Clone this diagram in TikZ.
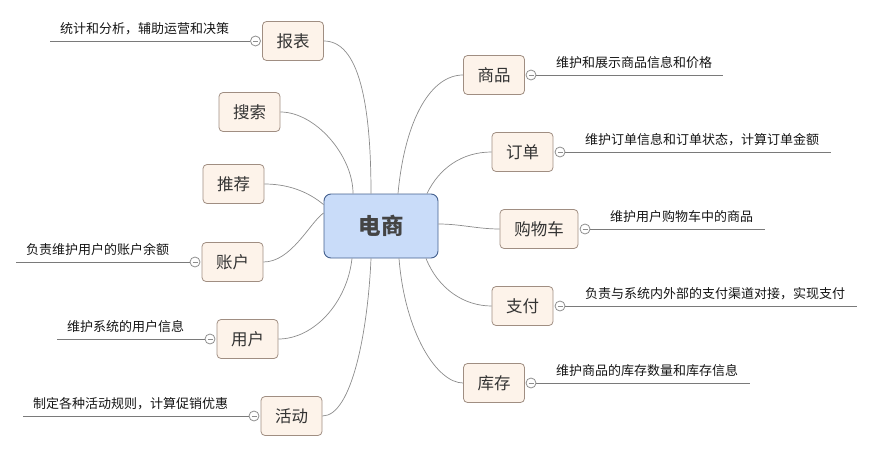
\documentclass[tikz,border=0pt]{standalone}
\usepackage{fontspec}
\setmainfont{Noto Sans CJK SC}
\begin{document}
\begin{tikzpicture}[x=1pt,y=-1pt,
  topic/.style={draw=nodeedge, fill=nodefill, rounded corners=4pt, line width=0.8pt,
    minimum height=39pt, minimum width=61pt, inner sep=0pt, text=nodetext,
    font=\fontsize{16.5}{16.5}\selectfont},
  root/.style={draw=rootedge, fill=rootfill, rounded corners=7pt, line width=0.9pt,
    minimum height=64pt, minimum width=114pt, inner sep=0pt, text=roottext,
    font=\fontsize{22.5}{22.5}\selectfont\bfseries},
  conn/.style={draw=connc, line width=0.7pt},
  dline/.style={draw=dlinec, line width=0.8pt},
  knob/.style={circle, draw=knobc, fill=white, line width=0.8pt, minimum size=10pt, inner sep=0pt,
    path picture={\draw[knobc, line width=0.8pt] ([xshift=-2.5pt]path picture bounding box.center) -- ([xshift=2.5pt]path picture bounding box.center);}},
  desc/.style={inner sep=0pt, text=desctext, font=\fontsize{13}{13}\selectfont}
]
\definecolor{nodeedge}{HTML}{A08E82}
\definecolor{nodefill}{HTML}{FDF3EA}
\definecolor{nodetext}{HTML}{333333}
\definecolor{rootedge}{HTML}{44608E}
\definecolor{rootfill}{HTML}{C9DCF9}
\definecolor{roottext}{HTML}{444444}
\definecolor{connc}{HTML}{8C8C8C}
\definecolor{dlinec}{HTML}{7A7A7A}
\definecolor{knobc}{HTML}{8E8E8E}
\definecolor{desctext}{HTML}{151515}

\useasboundingbox (0,0) rectangle (873,452);

% root
\node[root] (c) at (381,226) {电商};

% left topics
\node[topic] (bb) at (293,41) {报表};
\node[topic] (ss) at (249.5,112) {搜索};
\node[topic] (tj) at (233.5,184) {推荐};
\node[topic] (zh) at (232.5,262) {账户};
\node[topic] (yh) at (247.5,339) {用户};
\node[topic] (hd) at (291.5,416) {活动};

% right topics
\node[topic] (sp) at (494,75) {商品};
\node[topic] (dd) at (522.5,152) {订单};
\node[topic, minimum width=78pt] (gwc) at (539,229) {购物车};
\node[topic] (zf) at (522.5,306) {支付};
\node[topic] (kc) at (494,383) {库存};

% connectors
\draw[conn] ([xshift=-10pt]c.north) .. controls +(0,-90) and +(35,0) .. (bb.east);
\draw[conn] ([xshift=-28pt]c.north) .. controls +(0,-38) and +(35,0) .. (ss.east);
\draw[conn] ([yshift=-11pt]c.north west) .. controls +(-12,-10) and +(28,0) .. (tj.east);
\draw[conn] ([yshift=13pt]c.west) .. controls +(-14,10) and +(28,0) .. (zh.east);
\draw[conn] ([xshift=-29pt]c.south) .. controls +(-5,45) and +(35,0) .. (yh.east);
\draw[conn] ([xshift=-10pt]c.south) .. controls +(-3,70) and +(30,0) .. (hd.east);

\draw[conn] ([xshift=17pt]c.north) .. controls +(7,-75) and +(-32,0) .. (sp.west);
\draw[conn] ([xshift=46pt]c.north) .. controls +(12,-25) and +(-30,0) .. (dd.west);
\draw[conn] ([yshift=2pt]c.east) .. controls +(22,0) and +(-22,0) .. (gwc.west);
\draw[conn] ([xshift=45pt]c.south) .. controls +(12,30) and +(-28,0) .. (zf.west);
\draw[conn] ([xshift=18pt]c.south) .. controls +(6,75) and +(-26,0) .. (kc.west);

% left descriptions
\node[knob] (kbb) at (255.5,41) {};
\coordinate (ebb) at (50,41);
\draw[dline] (kbb.west) -- (ebb);
\node[desc, anchor=west] (tbb) at (60,29) {统计和分析，辅助运营和决策};

\node[knob] (kzh) at (195,262) {};
\coordinate (ezh) at (16,262);
\draw[dline] (kzh.west) -- (ezh);
\node[desc, anchor=west] (tzh) at (26,250) {负责维护用户的账户余额};

\node[knob] (kyh) at (210,339) {};
\coordinate (eyh) at (57,339);
\draw[dline] (kyh.west) -- (eyh);
\node[desc, anchor=west] (tyh) at (67,327) {维护系统的用户信息};

\node[knob] (khd) at (254,416) {};
\coordinate (ehd) at (23,416);
\draw[dline] (khd.west) -- (ehd);
\node[desc, anchor=west] (thd) at (33,404) {制定各种活动规则，计算促销优惠};

% right descriptions
\node[knob] (ksp) at (531,75) {};
\coordinate (esp) at (723,75);
\draw[dline] (ksp.east) -- (esp);
\node[desc, anchor=west] (tsp) at (556,63) {维护和展示商品信息和价格};

\node[knob] (kdd) at (560,152) {};
\coordinate (edd) at (831,152);
\draw[dline] (kdd.east) -- (edd);
\node[desc, anchor=west] (tdd) at (585,140) {维护订单信息和订单状态，计算订单金额};

\node[knob] (kgwc) at (585,229) {};
\coordinate (egwc) at (765,229);
\draw[dline] (kgwc.east) -- (egwc);
\node[desc, anchor=west] (tgwc) at (610,217) {维护用户购物车中的商品};

\node[knob] (kzf) at (560,306) {};
\coordinate (ezf) at (857,306);
\draw[dline] (kzf.east) -- (ezf);
\node[desc, anchor=west] (tzf) at (585,294) {负责与系统内外部的支付渠道对接，实现支付};

\node[knob] (kkc) at (531,383) {};
\coordinate (ekc) at (750,383);
\draw[dline] (kkc.east) -- (ekc);
\node[desc, anchor=west] (tkc) at (556,371) {维护商品的库存数量和库存信息};
\end{tikzpicture}
\end{document}
